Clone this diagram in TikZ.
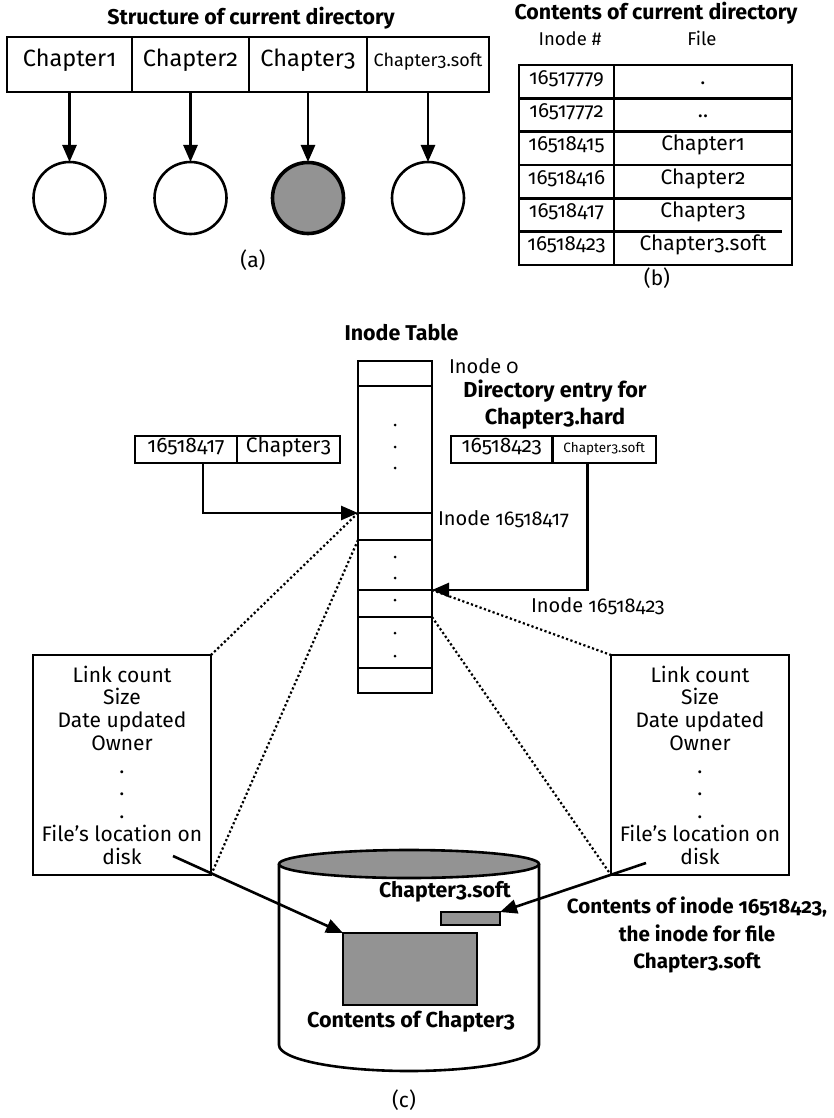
\documentclass[tikz,border=0pt]{standalone}
\usepackage{fontspec}
\setmainfont{Fira Sans}[Numbers=OldStyle]
\usetikzlibrary{arrows.meta,calc}
\definecolor{diskgray}{HTML}{939393}

\begin{document}
\begin{tikzpicture}[x=1pt,y=-1pt,
  every node/.style={inner sep=0pt, outer sep=0pt},
  ln/.style={line width=2.6pt},
  cell/.style={draw, line width=2.6pt, anchor=center},
  arr/.style={line width=2.6pt, -{Triangle[length=17pt,width=14pt]}},
  dotline/.style={line width=2.2pt, dash pattern=on 2.2pt off 2.4pt},
  one/.style={text height=0.72em, text depth=0.22em},
  ttl/.style={one, font=\fontsize{21.4}{24}\selectfont\bfseries},
  bold/.style={one, font=\fontsize{21.5}{24}\selectfont\bfseries},
  lbl/.style={one, font=\fontsize{20}{24}\selectfont},
  top/.style={one, font=\fontsize{23.5}{26}\selectfont},
  topsmall/.style={one, font=\fontsize{18}{20}\selectfont},
  tnum/.style={one, font=\fontsize{20.5}{24}\selectfont},
  ttxt/.style={one, font=\fontsize{21}{24}\selectfont},
  hdr/.style={one, font=\fontsize{18.5}{22}\selectfont},
  dnum/.style={one, font=\fontsize{21}{24}\selectfont},
  dtxt/.style={one, font=\fontsize{21}{24}\selectfont},
  tiny/.style={one, font=\fontsize{13.5}{16}\selectfont},
  bigbold/.style={font=\fontsize{20.6}{27.5}\selectfont\bfseries},
  inodebox/.style={draw, line width=2.6pt, minimum width=178pt, minimum height=220pt,
    align=center, font=\fontsize{21}{22.75}\selectfont},
  itcell/.style={draw, line width=2.6pt, minimum width=74pt},
  dotmark/.style={fill=black},
]
\useasboundingbox (0,0) rectangle (833,1118);

% ---------- (a) structure of the current directory ----------
\node[ttl] (ta) at (251,22) {Structure of current directory};
\node[cell, top, minimum width=125pt, minimum height=55pt] (c1) at (69.5,64.5) {Chapter1};
\node[cell, top, minimum width=117pt, minimum height=55pt] (c2) at (190.5,64.5) {Chapter2};
\node[cell, top, minimum width=118pt, minimum height=55pt] (c3) at (308,64.5) {Chapter3};
\node[cell, topsmall, minimum width=122pt, minimum height=55pt] (c4) at (428,64.5) {Chapter3.soft};
\foreach \i/\x in {1/69.5,2/190.5,3/308,4/428}{
  \node[circle, draw, line width=2.6pt, minimum size=72pt] (k\i) at (\x,198) {};
}
\fill[diskgray] (k3.center) circle (35pt);
\draw[line width=2.6pt] (k3.center) circle (35pt);
\foreach \i in {1,...,4}{ \draw[arr] (c\i.south) -- (k\i.north); }
\node[lbl, font=\fontsize{21}{24}\selectfont] (la) at (253,265) {(a)};

% ---------- (b) contents of the current directory ----------
\node[ttl] (tb) at (656,17) {Contents of current directory};
\node[hdr] (hn) at (570,43) {Inode \#};
\node[hdr] (hf) at (702,43) {File};
\foreach \i/\num/\name in {1/16517779/., 2/16517772/.., 3/16518415/Chapter1,
    4/16518416/Chapter2, 5/16518417/Chapter3, 6/16518423/Chapter3.soft}{
  \node[tnum, minimum width=95pt, minimum height=33.33pt] (n\i) at (566.5,{65+33.33*(\i-0.5)}) {\num};
  \node[ttxt, minimum width=178pt, minimum height=33.33pt] (f\i) at (703,{65+33.33*(\i-0.5)}) {\name};
}
\draw[ln] (n1.north west) rectangle (f6.south east);
\draw[ln] (n1.north east) -- (n6.south east);
\foreach \i in {1,...,4}{ \draw[ln] (n\i.south west) -- (f\i.south east); }
\draw[ln] (n5.south west) -- ([xshift=-10pt]f5.south east);
\node[lbl, font=\fontsize{21}{24}\selectfont] (lb) at (657,283) {(b)};

% ---------- (c) inode table ----------
\node[ttl] (tc) at (401.5,338) {Inode Table};
\node[itcell, minimum height=25pt]  (it0) at (395,373.5) {};
\node[itcell, minimum height=127pt] (it1) at (395,449.5) {};
\node[itcell, minimum height=27pt]  (it2) at (395,526.5) {};
\node[itcell, minimum height=50pt]  (it3) at (395,565) {};
\node[itcell, minimum height=27pt]  (it4) at (395,603.5) {};
\node[itcell, minimum height=51pt]  (it5) at (395,642.5) {};
\node[itcell, minimum height=25pt]  (it6) at (395,680.5) {};
\foreach \y in {425,447,468,557,578,600,633,656}{ \fill[dotmark] (395,\y) circle (1.5pt); }

\node[lbl, anchor=west] (i0) at (449,371) {Inode 0};
\node[bold, font=\fontsize{21.7}{24}\selectfont\bfseries] (de1) at (555,395) {Directory entry for};
\node[bold, font=\fontsize{21.7}{24}\selectfont\bfseries] (de2) at (555,422) {Chapter3.hard};
\node[lbl, anchor=west] (ia) at (438,523) {Inode 16518417};
\node[lbl, anchor=west] (ib) at (531,610) {Inode 16518423};

% directory entries
\node[cell, dnum, minimum width=102pt, minimum height=27pt] (hl1) at (186,449.5) {16518417};
\node[cell, dtxt, minimum width=103pt, minimum height=27pt] (hl2) at (288.5,449.5) {Chapter3};
\node[cell, dnum, minimum width=101.5pt, minimum height=27pt] (hr1) at (501.75,449.5) {16518423};
\node[cell, tiny, minimum width=103.5pt, minimum height=27pt] (hr2) at (604.25,449.5) {Chapter3.soft};
\draw[arr] ([xshift=17pt]hl1.south) |- (it2.north west);
\draw[arr] ([xshift=-17pt]hr2.south) |- (it4.north east);

% inode contents
\node[inodebox] (L) at (122,765) {Link count\\Size\\Date updated\\Owner\\.\\.\\.\\File’s location on\\disk};
\node[inodebox] (R) at (700,765) {Link count\\Size\\Date updated\\Owner\\.\\.\\.\\File’s location on\\disk};
\draw[dotline] (it2.north west) -- (L.north east);
\draw[dotline] (it3.north west) -- (L.south east);
\draw[dotline] (it4.north east) -- (R.north west);
\draw[dotline] (it5.north east) -- (R.south west);

% disk
\draw[ln, fill=white] (279,864) -- (279,1045)
  .. controls (279,1059.4) and (337.2,1071) .. (409,1071)
  .. controls (480.8,1071) and (539,1059.4) .. (539,1045) -- (539,864);
\draw[ln, fill=diskgray] (409,864) ellipse [x radius=130, y radius=14];
\node[draw, line width=2.6pt, fill=diskgray, minimum width=134pt, minimum height=72pt] (bigrect) at (410,969) {};
\node[draw, line width=2.6pt, fill=diskgray, minimum width=59pt, minimum height=13pt] (smallrect) at (470.5,918.5) {};
\node[bold, font=\fontsize{21.3}{24}\selectfont\bfseries] (dsoft) at (445,895) {Chapter3.soft};
\node[bold, font=\fontsize{21.6}{24}\selectfont\bfseries] (dch3) at (411,1025) {Contents of Chapter3};
\node[bigbold, align=center] (rtext) at (697,935) {Contents of inode 16518423,\\the inode for file\\Chapter3.soft};

\coordinate (lstart) at (173,856);
\coordinate (rstart) at (646,863);
\draw[arr] (lstart) -- (bigrect.north west);
\draw[arr] (rstart) -- (smallrect.north east);

\node[lbl, font=\fontsize{21}{24}\selectfont] (lc) at (404,1105) {(c)};
\end{tikzpicture}
\end{document}
